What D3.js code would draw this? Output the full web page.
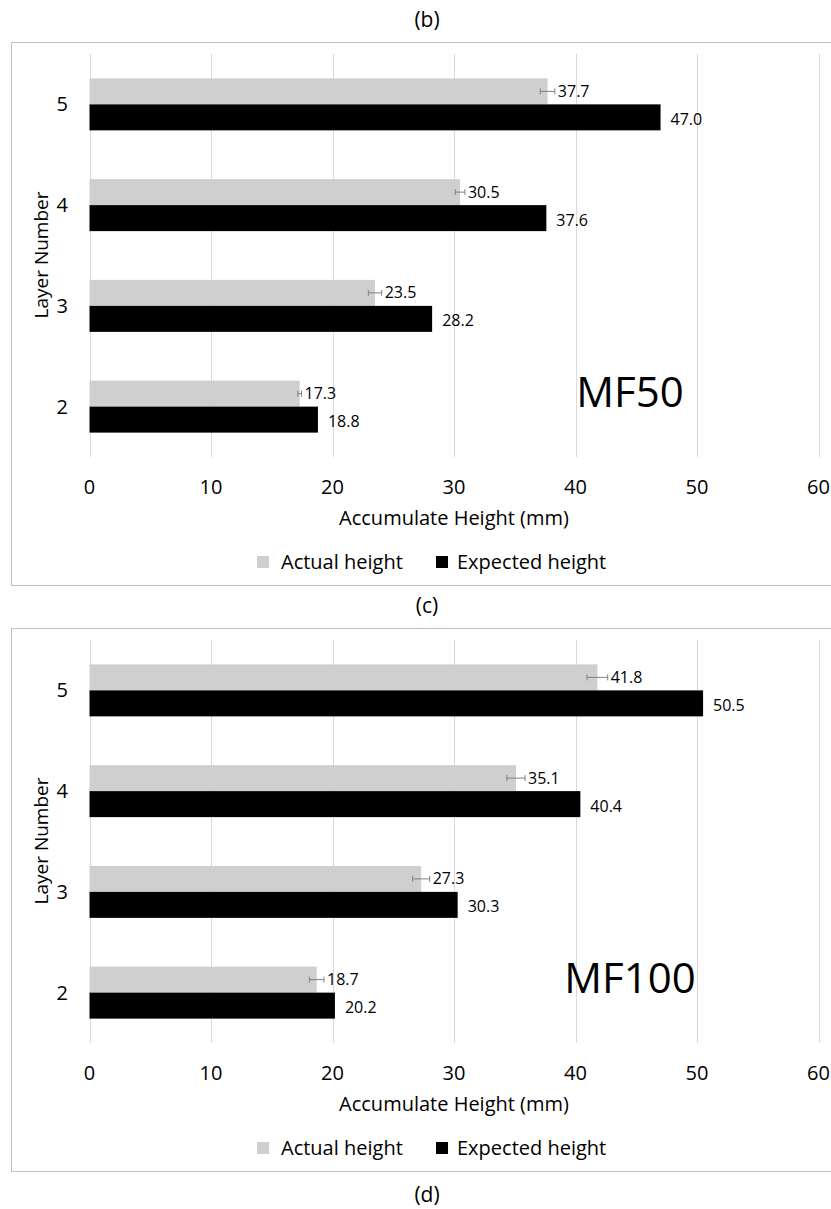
<!DOCTYPE html>
<html><head><meta charset="utf-8">
<script src="https://cdn.jsdelivr.net/npm/d3@7"></script>
<style>body{margin:0;background:#fff;} svg{display:block;font-family:"Open Sans",sans-serif;}</style>
</head><body>
<svg id="chart" width="831" height="1209"></svg>
<script>
const layers = ["5", "4", "3", "2"];
const xTicks = [0, 10, 20, 30, 40, 50, 60];
const panelTitles = ["(b)", "(c)"];
const bottomTitle = "(d)";
const sampleNames = ["MF50", "MF100"];
const seriesNames = ["Actual height", "Expected height"];
const seriesColors = ["#d0cfcf", "#000000"];
// values in layer order 5,4,3,2
const mf50Actual = [37.7, 30.5, 23.5, 17.3];
const mf50Expected = [47.0, 37.6, 28.2, 18.8];
const mf50Err = [0.6, 0.4, 0.55, 0.15];
const mf100Actual = [41.8, 35.1, 27.3, 18.7];
const mf100Expected = [50.5, 40.4, 30.3, 20.2];
const mf100Err = [0.85, 0.75, 0.7, 0.6];

const panels = [
  {name: sampleNames[0], actual: mf50Actual, expected: mf50Expected, err: mf50Err, title: panelTitles[0]},
  {name: sampleNames[1], actual: mf100Actual, expected: mf100Expected, err: mf100Err, title: panelTitles[1]}
];

const svg = d3.select("#chart");
const x = d3.scaleLinear().domain([0, 60]).range([89.5, 818.5]);
const panelStep = 586;

panels.forEach((p, i) => {
  const oy = i * panelStep;
  const g = svg.append("g");
  g.append("text").attr("x", 427).attr("y", 20 + oy).attr("dy", "0.35em")
    .attr("text-anchor", "middle").attr("font-size", 21).text(p.title);
  g.append("rect").attr("x", 11.5).attr("y", 42.5 + oy).attr("width", 830).attr("height", 543)
    .attr("fill", "none").attr("stroke", "#bfbfbf").attr("stroke-width", 1);

  const y = d3.scaleBand().domain(layers).range([54 + oy, 457 + oy])
    .paddingInner(0.484).paddingOuter(0.242);
  const sub = d3.scaleBand().domain(["a", "e"]).range([0, y.bandwidth()]);

  g.selectAll(".grid").data(xTicks).join("line")
    .attr("x1", d => Math.round(x(d)) + 0.5).attr("x2", d => Math.round(x(d)) + 0.5)
    .attr("y1", 54 + oy).attr("y2", 457 + oy)
    .attr("stroke", "#d9d9d9").attr("stroke-width", 1);

  g.selectAll(".xt").data(xTicks).join("text")
    .attr("x", d => x(d)).attr("y", 487 + oy).attr("dy", "0.35em")
    .attr("text-anchor", "middle").attr("font-size", 20).text(d => d);

  g.selectAll(".yt").data(layers).join("text")
    .attr("x", 68).attr("y", d => y(d) + y.bandwidth() / 2).attr("dy", "0.35em")
    .attr("text-anchor", "end").attr("font-size", 20).text(d => d);

  const rows = layers.map((l, k) => ({l, a: p.actual[k], e: p.expected[k], err: p.err[k]}));
  g.selectAll(".ba").data(rows).join("rect")
    .attr("x", x(0)).attr("y", d => y(d.l) + sub("a"))
    .attr("width", d => x(d.a) - x(0)).attr("height", sub.bandwidth())
    .attr("fill", seriesColors[0]);
  g.selectAll(".be").data(rows).join("rect")
    .attr("x", x(0)).attr("y", d => y(d.l) + sub("e"))
    .attr("width", d => x(d.e) - x(0)).attr("height", sub.bandwidth())
    .attr("fill", seriesColors[1]);

  rows.forEach(d => {
    const cy = y(d.l) + sub("a") + sub.bandwidth() / 2;
    const eg = g.append("g").attr("stroke", "#808080").attr("stroke-width", 1);
    eg.append("line").attr("x1", x(d.a - d.err)).attr("x2", x(d.a + d.err)).attr("y1", cy).attr("y2", cy);
    eg.append("line").attr("x1", x(d.a - d.err)).attr("x2", x(d.a - d.err)).attr("y1", cy - 3).attr("y2", cy + 3);
    eg.append("line").attr("x1", x(d.a + d.err)).attr("x2", x(d.a + d.err)).attr("y1", cy - 3).attr("y2", cy + 3);
  });

  g.selectAll(".la").data(rows).join("text")
    .attr("x", d => x(d.a + d.err) + 3).attr("y", d => y(d.l) + sub("a") + sub.bandwidth() / 2)
    .attr("dy", "0.35em").attr("font-size", 16).text(d => d.a.toFixed(1));
  g.selectAll(".le").data(rows).join("text")
    .attr("x", d => x(d.e) + 10).attr("y", d => y(d.l) + sub("e") + sub.bandwidth() / 2 + 2)
    .attr("dy", "0.35em").attr("font-size", 16).text(d => d.e.toFixed(1));

  g.append("text").attr("x", 630).attr("y", 392 + oy).attr("dy", "0.35em")
    .attr("text-anchor", "middle").attr("font-size", 42).text(p.name);

  g.append("text").attr("x", 454).attr("y", 518 + oy).attr("dy", "0.35em")
    .attr("text-anchor", "middle").attr("font-size", 20).text("Accumulate Height (mm)");
  g.append("text").attr("transform", `translate(41,${255 + oy}) rotate(-90)`).attr("dy", "0.35em")
    .attr("text-anchor", "middle").attr("font-size", 19).text("Layer Number");

  const leg = [{n: seriesNames[0], c: seriesColors[0], x: 257, tx: 281}, {n: seriesNames[1], c: seriesColors[1], x: 436, tx: 457}];
  leg.forEach(L => {
    g.append("rect").attr("x", L.x).attr("y", 556 + oy).attr("width", 12).attr("height", 12).attr("fill", L.c);
    g.append("text").attr("x", L.tx).attr("y", 562 + oy).attr("dy", "0.35em").attr("font-size", 20).text(L.n);
  });
});

svg.append("text").attr("x", 427).attr("y", 1195).attr("dy", "0.35em")
  .attr("text-anchor", "middle").attr("font-size", 21).text(bottomTitle);
</script>
</body></html>
